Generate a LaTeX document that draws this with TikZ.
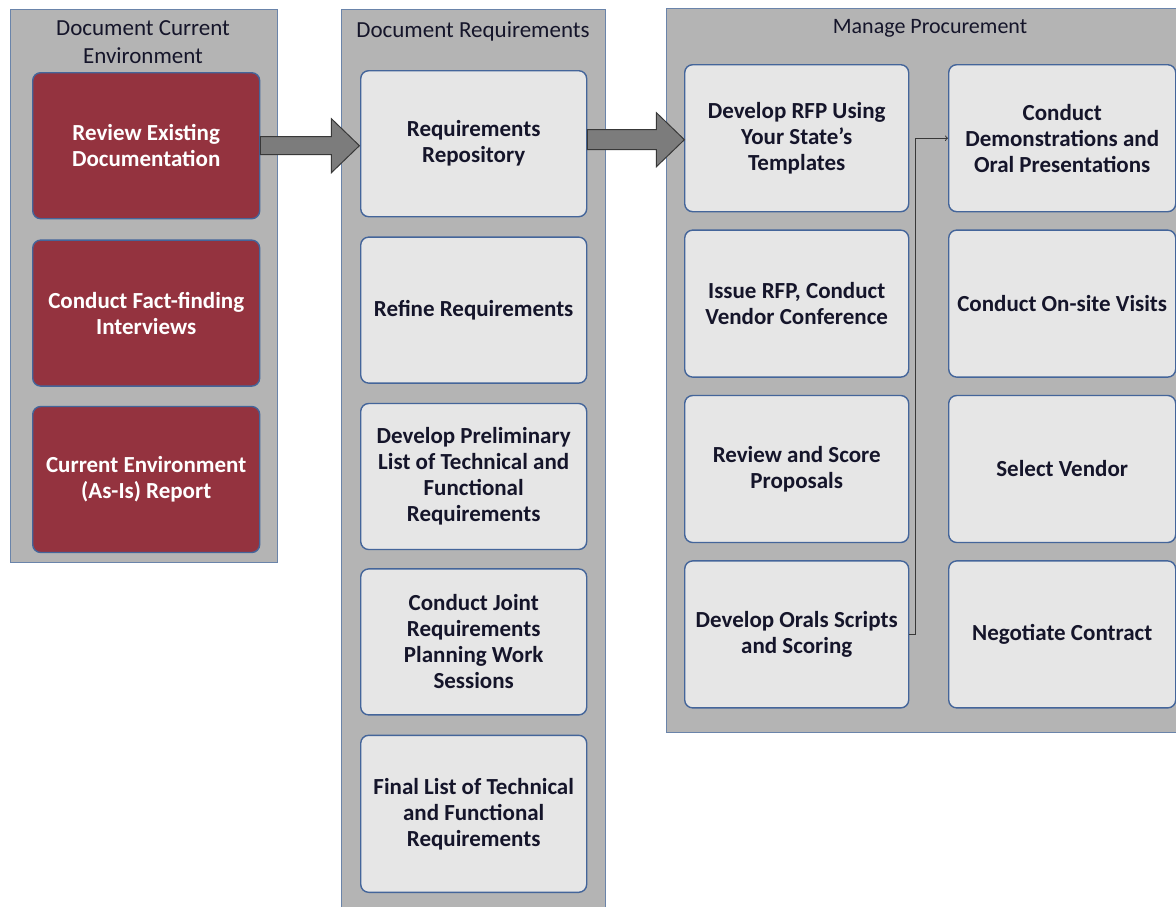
\documentclass[tikz,border=0pt]{standalone}
\usepackage{fontspec}
\setmainfont{Carlito}
\usetikzlibrary{positioning}
\definecolor{panelgray}{HTML}{B4B4B4}
\definecolor{panelline}{HTML}{6A84AA}
\definecolor{boxline}{HTML}{44659A}
\definecolor{boxfill}{HTML}{E6E6E6}
\definecolor{redfill}{HTML}{94333F}
\definecolor{boxtext}{HTML}{15152A}
\definecolor{arrowfill}{HTML}{7C7C7C}
\definecolor{arrowline}{HTML}{383838}

\begin{document}
\begin{tikzpicture}[x=1pt, y=-1pt,
      every node/.style = {align=center, inner sep=0pt},
      panel/.style = {rectangle, draw=panelline, fill=panelgray,
        line width=1.4pt, anchor=north west},
      ptitle/.style = {font=\fontsize{23}{28}\selectfont, text=boxtext},
      redbox/.style = {rectangle, rounded corners=8pt, draw=boxline,
        line width=1.4pt, fill=redfill, text=white,
        minimum width=227pt, minimum height=146pt,
        font=\fontsize{23}{26}\selectfont\bfseries},
      greybox/.style = {redbox, fill=boxfill, text=boxtext},
      blockarrow/.style = {draw=arrowline, fill=arrowfill, line width=1pt}]
  \useasboundingbox (0,0) rectangle (1176,906);
  \node[panel, minimum width=267pt, minimum height=553pt] (dce) at (10,9) {};
  \node[ptitle] (dcet) at (143,42) {Document Current\\Environment};
  \node[redbox, anchor=north west] (rev) at (32,72) {Review Existing\\Documentation};
  \node[redbox, below=20pt of rev] (fact) {Conduct Fact-finding\\Interviews};
  \node[redbox, below=19pt of fact] (asis) {Current Environment\\(As-Is) Report};

  \node[panel, minimum width=264pt, minimum height=910pt] (dr) at (341,9) {};
  \node[ptitle] (drt) at (473,31) {Document Requirements};
  \node[greybox, minimum width=226pt, anchor=north west] (repo) at (360,70) {Requirements\\Repository};
  \node[greybox, minimum width=226pt, below=19pt of repo] (refine) {Refine Requirements};
  \node[greybox, minimum width=226pt, below=19pt of refine] (prelim)
    {Develop Preliminary\\List of Technical and\\Functional\\Requirements};
  \node[greybox, minimum width=226pt, below=18pt of prelim] (joint)
    {Conduct Joint\\Requirements\\Planning Work\\Sessions};
  \node[greybox, minimum width=226pt, minimum height=157pt, below=19pt of joint] (final)
    {Final List of Technical\\and Functional\\Requirements};

  \node[panel, minimum width=520pt, minimum height=724pt] (mp) at (666,8) {};
  \node[ptitle, font=\fontsize{22}{26}\selectfont] (mpt) at (930,28) {Manage Procurement};
  \node[greybox, minimum width=224pt, minimum height=147pt, anchor=north west] (rfp) at (684,64)
    {Develop RFP Using\\Your State’s\\Templates};
  \node[greybox, minimum width=224pt, minimum height=147pt, below=17pt of rfp] (issue)
    {Issue RFP, Conduct\\Vendor Conference};
  \node[greybox, minimum width=224pt, minimum height=147pt, below=17pt of issue] (score)
    {Review and Score\\Proposals};
  \node[greybox, minimum width=224pt, minimum height=147pt, below=17pt of score] (orals)
    {Develop Orals Scripts\\and Scoring};
  \node[greybox, minimum height=147pt, anchor=north west] (demo) at (948,64)
    {Conduct\\Demonstrations and\\Oral Presentations};
  \node[greybox, minimum height=147pt, below=17pt of demo] (visits) {Conduct On-site Visits};
  \node[greybox, minimum height=147pt, below=17pt of visits] (vendor) {Select Vendor};
  \node[greybox, minimum height=147pt, below=17pt of vendor] (contract) {Negotiate Contract};

  \draw[blockarrow] (rev.east) ++(0,-9) -- ++(71,0) -- ++(0,-18) -- ++(28,27)
    -- ++(-28,27) -- ++(0,-18) -- ++(-71,0) -- cycle;
  \draw[blockarrow] (repo.east) ++(0,-14) -- ++(69,0) -- ++(0,-17) -- ++(28,27)
    -- ++(-28,27) -- ++(0,-17) -- ++(-69,0) -- cycle;
  \draw[->, line width=1pt, draw=arrowline] (orals.east) -- ++(6,0) |- (demo.west);
\end{tikzpicture}
\end{document}
